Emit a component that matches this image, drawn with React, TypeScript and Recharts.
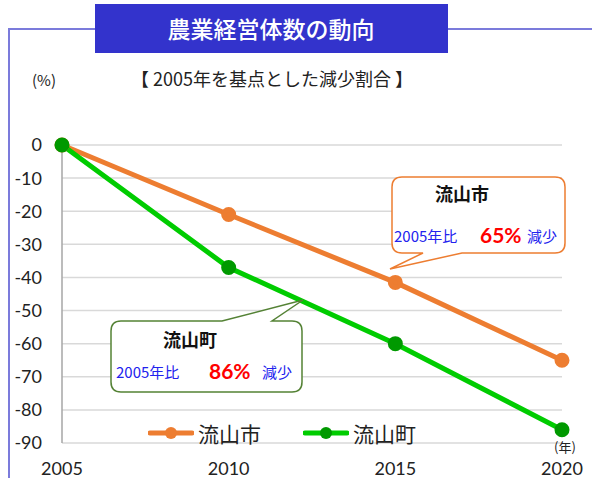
import { LineChart, Line, XAxis, YAxis, CartesianGrid } from 'recharts';

const years = [2005, 2010, 2015, 2020];
const cityValues = [0, -21, -41.5, -65];
const townValues = [0, -37, -60, -86];
const yTicks = [0, -10, -20, -30, -40, -50, -60, -70, -80, -90];

const data = years.map((y, i) => ({ year: y, city: cityValues[i], town: townValues[i] }));

const JP = '"Noto Sans CJK JP", "Noto Sans", sans-serif';
const NUM = 'Lato, "Noto Sans", sans-serif';

const legendItems = [
  { name: '流山市', line: '#ed7d31', dot: '#ed7d31' },
  { name: '流山町', line: '#00cc00', dot: '#009900' },
];

function LegendBox() {
  return (
    <div style={{ position: 'absolute', left: 148, top: 418, display: 'flex', gap: 42 }}>
      {legendItems.map((it) => (
        <div key={it.name} style={{ display: 'flex', alignItems: 'center' }}>
          <svg width={46} height={14}>
            <line x1={2} y1={7} x2={44} y2={7} stroke={it.line} strokeWidth={5} strokeLinecap="round" />
            <circle cx={23} cy={7} r={6} fill={it.dot} />
          </svg>
          <span style={{ fontFamily: JP, fontSize: 21, color: '#222', marginLeft: 4 }}>{it.name}</span>
        </div>
      ))}
    </div>
  );
}

export default function App() {
  return (
    <div style={{ position: 'fixed', left: 0, top: 0, width: 592, height: 478, background: '#fff' }}>
      <LineChart width={592} height={478} data={data} margin={{ top: 145, right: 30, left: 12, bottom: 0 }}>
        <CartesianGrid vertical={false} stroke="#d9d9d9" strokeWidth={1.5} />
        <XAxis
          dataKey="year"
          type="number"
          domain={[2005, 2020]}
          ticks={years}
          axisLine={false}
          tickLine={false}
          tickSize={0}
          tickMargin={19}
          height={35}
          tick={{ fontFamily: NUM, fontSize: 18, fill: '#222' }}
        />
        <YAxis
          domain={[-90, 0]}
          ticks={yTicks}
          width={50}
          axisLine={{ stroke: '#a6a6a6', strokeWidth: 1.5 }}
          tickLine={false}
          tickSize={0}
          tickMargin={20}
          tick={{ fontFamily: NUM, fontSize: 18, fill: '#222' }}
        />
        <Line
          dataKey="city"
          name="流山市"
          stroke="#ed7d31"
          strokeWidth={5}
          dot={{ r: 5, fill: '#ed7d31', stroke: '#ed7d31' }}
          isAnimationActive={false}
        />
        <Line
          dataKey="town"
          name="流山町"
          stroke="#00cc00"
          strokeWidth={5}
          dot={{ r: 5, fill: '#009900', stroke: '#009900' }}
          isAnimationActive={false}
        />
      </LineChart>

      <LegendBox />

      <svg width={592} height={478} style={{ position: 'absolute', left: 0, top: 0, pointerEvents: 'none' }}>
        {/* frame */}
        <polyline points="9,478 9,29 592,29" fill="none" stroke="#7b7bdb" strokeWidth={2} />
        {/* title */}
        <rect x={95} y={4} width={353} height={49} fill="#3333cc" />
        <text x={271} y={38} textAnchor="middle" fill="#fff" fontFamily={JP} fontSize={23} fontWeight={500}>
          農業経営体数の動向
        </text>
        <text x={272} y={86} textAnchor="middle" fill="#222" fontFamily={JP} fontSize={18}>
          【 2005年を基点とした減少割合 】
        </text>
        <text x={44} y={86} textAnchor="middle" fill="#222" fontFamily={JP} fontSize={15}>
          (%)
        </text>
        <text x={565} y={452} textAnchor="middle" fill="#222" fontFamily={JP} fontSize={13}>
          (年)
        </text>

        {/* city callout */}
        <path
          d="M402,177 H555 Q565,177 565,187 V243 Q565,253 555,253 H462 L390,269 L423,253 H402 Q392,253 392,243 V187 Q392,177 402,177 Z"
          fill="#fff"
          stroke="#ed7d31"
          strokeWidth={1.5}
        />
        <text x={462} y={201} textAnchor="middle" fill="#111" fontFamily={JP} fontSize={18} fontWeight={700}>
          流山市
        </text>
        <text x={394} y={242} fill="#2222ee" fontFamily={JP} fontSize={15}>2005年比</text>
        <text x={480} y={243} fill="#ff0000" fontFamily={NUM} fontSize={21} fontWeight={700}>65%</text>
        <text x={527} y={242} fill="#2222ee" fontFamily={JP} fontSize={15}>減少</text>

        {/* town callout */}
        <path
          d="M121,321 H222 L303,300 L272,321 H292 Q302,321 302,331 V382 Q302,392 292,392 H121 Q111,392 111,382 V331 Q111,321 121,321 Z"
          fill="#fff"
          stroke="#548235"
          strokeWidth={1.5}
        />
        <text x={190} y={347} textAnchor="middle" fill="#111" fontFamily={JP} fontSize={18} fontWeight={700}>
          流山町
        </text>
        <text x={116} y={378} fill="#2222ee" fontFamily={JP} fontSize={15}>2005年比</text>
        <text x={209} y={379} fill="#ff0000" fontFamily={NUM} fontSize={21} fontWeight={700}>86%</text>
        <text x={262} y={378} fill="#2222ee" fontFamily={JP} fontSize={15}>減少</text>
      </svg>
    </div>
  );
}
